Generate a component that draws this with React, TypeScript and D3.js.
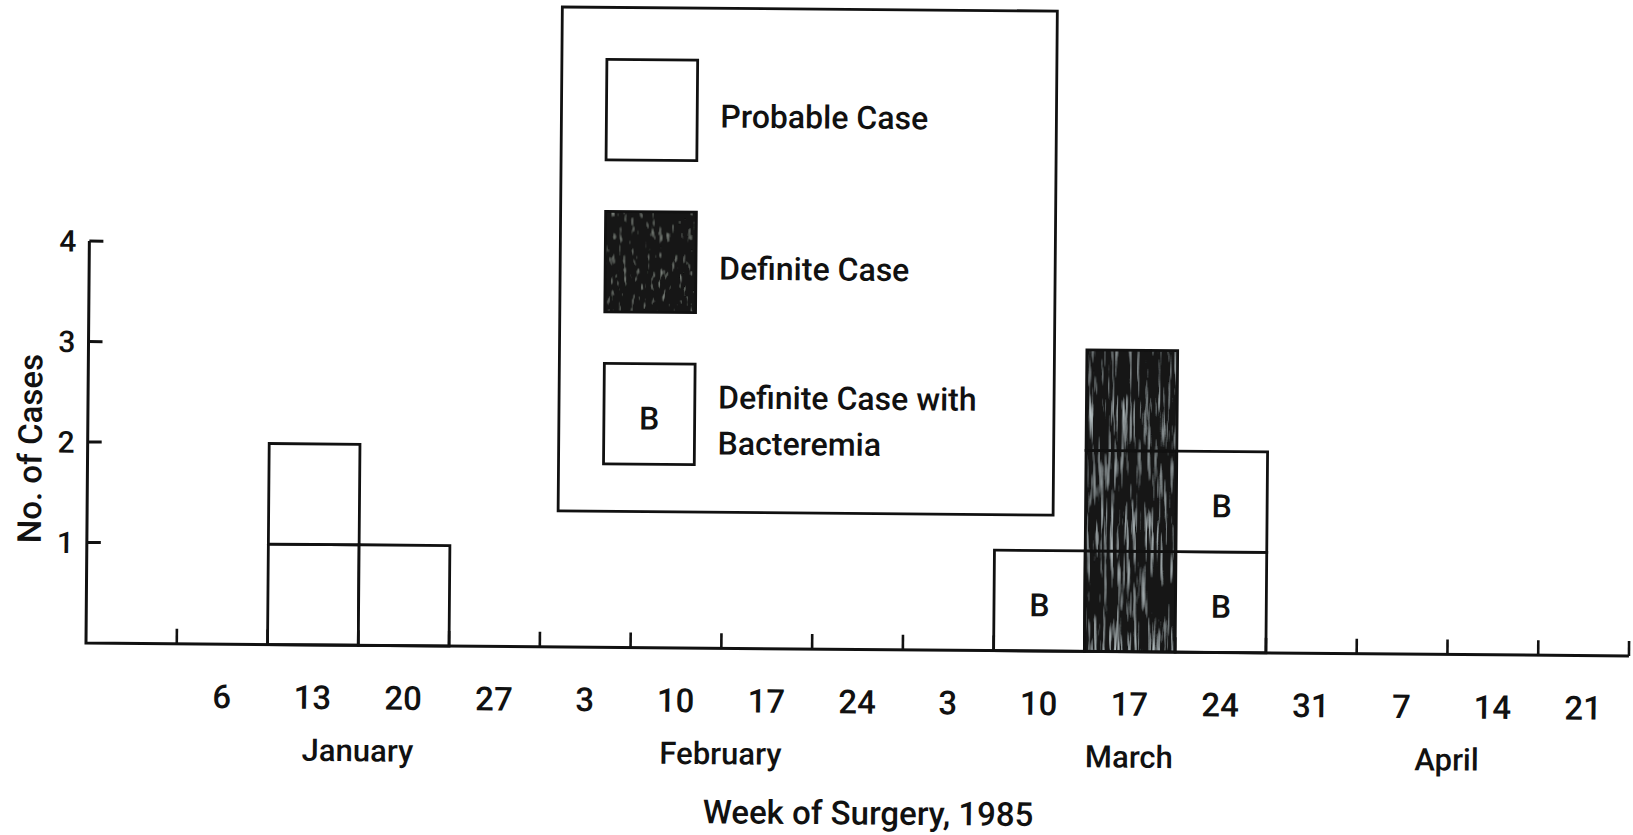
import React from "react";
import * as d3 from "d3";

// ---- data ----
const weekStarts = [
  "1984-12-30", "1985-01-06", "1985-01-13", "1985-01-20", "1985-01-27",
  "1985-02-03", "1985-02-10", "1985-02-17", "1985-02-24",
  "1985-03-03", "1985-03-10", "1985-03-17", "1985-03-24", "1985-03-31",
  "1985-04-07", "1985-04-14", "1985-04-21",
];
const weekLabels = ["", "6", "13", "20", "27", "3", "10", "17", "24", "3", "10", "17", "24", "31", "7", "14", "21"];

const months = ["January", "February", "March", "April"];
const monthFirstWeek = ["1985-01-06", "1985-02-03", "1985-03-03", "1985-04-07"];
const monthLastWeek = ["1985-01-27", "1985-02-24", "1985-03-31", "1985-04-14"];

// cases per week (stacked boxes, one box per case)
const probableCases = [0, 0, 2, 1, 0, 0, 0, 0, 0, 0, 0, 0, 0, 0, 0, 0, 0];
const definiteCases = [0, 0, 0, 0, 0, 0, 0, 0, 0, 0, 0, 3, 0, 0, 0, 0, 0];
const bacteremiaCases = [0, 0, 0, 0, 0, 0, 0, 0, 0, 0, 1, 0, 2, 0, 0, 0, 0];

const categories = ["probable", "definite", "bacteremia"];
const legendLabels = [["Probable Case"], ["Definite Case"], ["Definite Case with", "Bacteremia"]];

const yTicks = [1, 2, 3, 4];
const yMax = 4;

const yTitle = "No. of Cases";
const xTitle = "Week of Surgery, 1985";

// ---- layout ----
const W = 1633;
const H = 835;
const X0 = 86;
const X1 = 1629;
const Y0 = 643;
const Y1 = 241;
const TILT = 0.48;
const FONT = "Roboto, 'Open Sans', Arial, sans-serif";
const WEIGHT = 500;
const INK = "#111";

export default function App() {
  const x = d3.scaleBand<string>().domain(weekStarts).range([X0, X1]).paddingInner(0).paddingOuter(0);
  const y = d3.scaleLinear().domain([0, yMax]).range([Y0, Y1]);
  const bw = x.bandwidth();
  const unit = y(0) - y(1);

  const series: Record<string, number[]> = {
    probable: probableCases,
    definite: definiteCases,
    bacteremia: bacteremiaCases,
  };

  const boxes: { week: string; level: number; cat: string }[] = [];
  weekStarts.forEach((wk, i) => {
    let level = 0;
    categories.forEach((cat) => {
      const n = series[cat][i];
      for (let k = 0; k < n; k++) {
        boxes.push({ week: wk, level, cat });
        level++;
      }
    });
  });

  const boundaries = d3.range(1, weekStarts.length + 1).map((i) =>
    i < weekStarts.length ? (x(weekStarts[i]) as number) : X1
  );

  // legend geometry
  const legX = 557;
  const legY = 3;
  const legW = 495;
  const legH = 504;
  const swX = 602;
  const swY = [55, 207, 359];
  const textX = 716;

  const renderBox = (cat: string, bx: number, by: number, key: string, dark = false) => (
    <g key={key}>
      {cat === "definite" && (
        <rect
          x={bx}
          y={by}
          width={bw}
          height={unit}
          fill="#151915"
          filter={dark ? "url(#scanDark)" : "url(#scan)"}
        />
      )}
      <rect
        x={bx}
        y={by}
        width={bw}
        height={unit}
        fill={cat === "definite" ? "none" : "#fff"}
        stroke={INK}
        strokeWidth={2.8}
      />
      {cat === "bacteremia" && (
        <text
          x={bx + bw / 2}
          y={by + unit / 2 + 4}
          dy="0.36em"
          textAnchor="middle"
          fontFamily={FONT}
          fontWeight={WEIGHT}
          fontSize={32}
          fill={INK}
        >
          B
        </text>
      )}
    </g>
  );

  const textProps = { fontFamily: FONT, fontWeight: WEIGHT, fill: INK };

  return (
    <svg
      width={W}
      height={H}
      style={{ position: "absolute", left: 0, top: 0, background: "#fff" }}
    >
      <defs>
        <filter id="scan" x="0" y="0" width="1" height="1">
          <feTurbulence type="fractalNoise" baseFrequency="0.3 0.018" numOctaves={3} seed={7} result="noise" />
          <feColorMatrix
            in="noise"
            type="matrix"
            values="0 0 0 0 0.62  0 0 0 0 0.7  0 0 0 0 0.72  2.6 0 0 0 -1.42"
            result="light"
          />
          <feComposite in="light" in2="SourceGraphic" operator="in" result="lightIn" />
          <feMerge>
            <feMergeNode in="SourceGraphic" />
            <feMergeNode in="lightIn" />
          </feMerge>
        </filter>
        <filter id="scanDark" x="0" y="0" width="1" height="1">
          <feTurbulence type="fractalNoise" baseFrequency="0.25 0.08" numOctaves={2} seed={3} result="noise" />
          <feColorMatrix
            in="noise"
            type="matrix"
            values="0 0 0 0 0.45  0 0 0 0 0.5  0 0 0 0 0.45  2 0 0 0 -1.25"
            result="light"
          />
          <feComposite in="light" in2="SourceGraphic" operator="in" result="lightIn" />
          <feMerge>
            <feMergeNode in="SourceGraphic" />
            <feMergeNode in="lightIn" />
          </feMerge>
        </filter>
      </defs>
      <rect x={0} y={0} width={W} height={H} fill="#fff" />
      <g transform={`rotate(${TILT}, ${X0}, ${Y0})`}>
        {/* bars */}
        {boxes.map((b, i) =>
          renderBox(b.cat, x(b.week) as number, y(b.level + 1), `b${i}`)
        )}

        {/* axes */}
        <path
          d={`M${X0},${y(yMax)}V${Y0}H${X1}`}
          fill="none"
          stroke={INK}
          strokeWidth={3}
        />
        {yTicks.map((t) => (
          <g key={`yt${t}`}>
            <line x1={X0} x2={X0 + 14} y1={y(t)} y2={y(t)} stroke={INK} strokeWidth={3} />
            <text x={X0 - 13} y={y(t)} dy="0.36em" textAnchor="end" fontSize={30} {...textProps}>
              {t}
            </text>
          </g>
        ))}
        {boundaries.map((bx, i) => (
          <line key={`xt${i}`} x1={bx} x2={bx} y1={Y0} y2={Y0 - 15} stroke={INK} strokeWidth={2.6} />
        ))}
        {weekStarts.map((wk, i) =>
          weekLabels[i] ? (
            <text
              key={`xl${i}`}
              x={(x(wk) as number) + bw / 2}
              y={707}
              textAnchor="middle"
              fontSize={33}
              {...textProps}
            >
              {weekLabels[i]}
            </text>
          ) : null
        )}
        {months.map((m, i) => {
          const a = x(monthFirstWeek[i]) as number;
          const b = (x(monthLastWeek[i]) as number) + bw;
          return (
            <text key={`m${i}`} x={(a + b) / 2} y={759} textAnchor="middle" fontSize={31} {...textProps}>
              {m}
            </text>
          );
        })}
        <text x={(X0 + X1) / 2 + 12} y={818} textAnchor="middle" fontSize={33} {...textProps}>
          {xTitle}
        </text>
        <text
          transform={`translate(40, ${(Y0 + Y1) / 2 + 7}) rotate(-90)`}
          textAnchor="middle"
          fontSize={33}
          {...textProps}
        >
          {yTitle}
        </text>

        {/* legend */}
        <rect x={legX} y={legY} width={legW} height={legH} fill="#fff" stroke={INK} strokeWidth={2.8} />
        {categories.map((cat, i) => (
          <g key={`lg${i}`}>
            {renderBox(cat, swX, swY[i], `ls${i}`, true)}
            {legendLabels[i].map((line, j) => (
              <text
                key={j}
                x={textX}
                y={swY[i] + unit / 2 + 17 - ((legendLabels[i].length - 1) * 46) / 2 + j * 46}
                fontSize={32}
                {...textProps}
              >
                {line}
              </text>
            ))}
          </g>
        ))}
      </g>
    </svg>
  );
}
